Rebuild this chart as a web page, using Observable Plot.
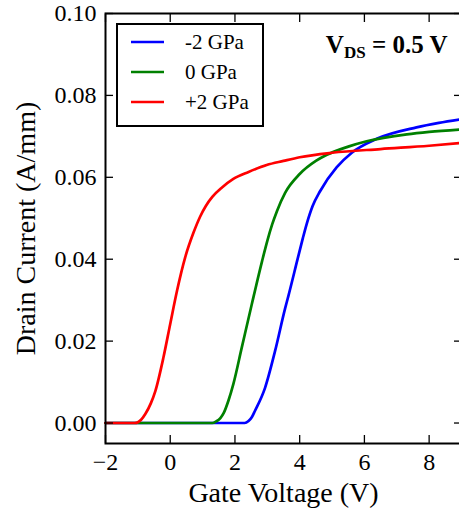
<!DOCTYPE html>
<html>
<head>
<meta charset="utf-8">
<script src="https://cdn.jsdelivr.net/npm/d3@7"></script>
<script src="https://cdn.jsdelivr.net/npm/@observablehq/plot@0.6"></script>
<style>
  html, body { margin: 0; padding: 0; background: white; overflow: hidden; }
  #chart { position: relative; width: 459px; height: 514px; }
</style>
</head>
<body>
<div id="chart"></div>
<script>
// ---- data ----
const seriesNames = ["-2 GPa", "0 GPa", "+2 GPa"];
const seriesColors = ["#0000ff", "#008000", "#ff0000"];

const vBlue = [-2, 2.3, 2.42, 2.52, 2.62, 2.93, 3.24, 3.55, 3.65, 3.95, 4.1, 4.22, 4.4, 4.63, 5.14, 5.61, 6.38, 7.61, 8.3, 9.0];
const iBlue = [0, 0, 0.0005, 0.0014, 0.003, 0.0086, 0.0176, 0.028, 0.031, 0.0405, 0.0452, 0.0487, 0.053, 0.0566, 0.0624, 0.066, 0.0694, 0.0722, 0.0733, 0.0742];

const vGreen = [-2, 1.3, 1.42, 1.55, 1.65, 1.8, 1.95, 2.21, 2.52, 2.84, 3.0, 3.15, 3.3, 3.55, 4.0, 4.5, 4.84, 5.5, 6.07, 7.31, 8.0, 9.0];
const iGreen = [0, 0, 0.0004, 0.0012, 0.0024, 0.0055, 0.0095, 0.0184, 0.029, 0.0396, 0.0445, 0.0485, 0.0518, 0.0562, 0.0608, 0.064, 0.0655, 0.0675, 0.0688, 0.0705, 0.0711, 0.0717];

const vRed = [-2, -1.1, -1.0, -0.9, -0.77, -0.6, -0.46, -0.21, 0, 0.21, 0.46, 0.72, 0.93, 1.1, 1.3, 1.6, 1.95, 2.42, 2.98, 3.5, 4.0, 5.0, 6.5, 8.0, 9.0];
const iRed = [0, 0, 0.0002, 0.0008, 0.0022, 0.0048, 0.0078, 0.016, 0.0242, 0.0323, 0.0404, 0.0465, 0.0505, 0.053, 0.0552, 0.0575, 0.0596, 0.0613, 0.063, 0.064, 0.0649, 0.066, 0.0669, 0.0677, 0.0684];

const xTicks = [-2, 0, 2, 4, 6, 8];
const yTicks = [0, 0.02, 0.04, 0.06, 0.08, 0.10];
const xLabel = "Gate Voltage (V)";
const yLabel = "Drain Current (A/mm)";
const annotation = "VDS = 0.5 V";

// ---- build table ----
const seriesV = [vBlue, vGreen, vRed];
const seriesI = [iBlue, iGreen, iRed];
const rows = [];
seriesNames.forEach((name, k) => {
  seriesV[k].forEach((v, j) => rows.push({s: name, v, i: seriesI[k][j]}));
});

const font = "'Liberation Serif', 'Times New Roman', serif";
const noText = () => "";

const chart = Plot.plot({
  width: 459,
  height: 514,
  marginLeft: 105,
  marginRight: -2,
  marginTop: 13,
  marginBottom: 71,
  x: {domain: [-2, 9], axis: null},
  y: {domain: [-0.005, 0.10], axis: null},
  color: {domain: seriesNames, range: seriesColors},
  style: {fontFamily: font, background: "white", color: "black", overflow: "hidden"},
  marks: [
    Plot.line(rows, {x: "v", y: "i", z: "s", stroke: "s", strokeWidth: 2.7, curve: "monotone-x"}),
    Plot.axisX({ticks: xTicks, tickSize: 0, tickPadding: 9, tickFormat: d3.format("d"), fontSize: 24, label: null}),
    Plot.axisX({ticks: xTicks, tickSize: -8, tickFormat: noText, label: null, strokeWidth: 1.3}),
    Plot.axisX({anchor: "top", ticks: xTicks, tickSize: -8, tickFormat: noText, label: null, strokeWidth: 1.3}),
    Plot.axisY({ticks: yTicks, tickSize: 0, tickPadding: 9, tickFormat: d3.format(".2f"), fontSize: 24, label: null}),
    Plot.axisY({ticks: yTicks, tickSize: -8, tickFormat: noText, label: null, strokeWidth: 1.3}),
    Plot.axisY({anchor: "right", ticks: yTicks, tickSize: -8, tickFormat: noText, label: null, strokeWidth: 1.3}),
    Plot.frame({stroke: "black", strokeWidth: 2}),
    Plot.text([xLabel], {frameAnchor: "bottom", dy: 50, lineAnchor: "middle", textAnchor: "middle", fontSize: 28, fill: "black"}),
    Plot.text([yLabel], {frameAnchor: "left", dx: -79, rotate: -90, lineAnchor: "middle", textAnchor: "middle", fontSize: 28, fill: "black"}),
    Plot.text([annotation], {frameAnchor: "top-right", dx: -14, dy: 31, lineAnchor: "middle", textAnchor: "end", fontSize: 25, fontWeight: "bold", fill: "black"})
  ]
});

document.getElementById("chart").appendChild(chart);

// drop the empty labels of the tick-only axes
d3.select(chart).selectAll("text").filter(function() { return this.textContent === ""; }).remove();

// subscript for V_DS
d3.select(chart).selectAll("text").each(function() {
  if (this.textContent === annotation) {
    const t = d3.select(this);
    t.text("");
    t.append("tspan").text("V");
    t.append("tspan").attr("dy", 5).attr("font-size", 17).text("DS");
    t.append("tspan").attr("dy", -5).text(" = 0.5 V");
  }
});

// legend inside the axes (upper left)
const svg = d3.select(chart);
const lg = svg.append("g").attr("transform", "translate(117,24)");
lg.append("rect").attr("width", 146).attr("height", 102)
  .attr("fill", "white").attr("stroke", "black").attr("stroke-width", 2);
seriesNames.forEach((name, k) => {
  const y = 18 + 30 * k;
  lg.append("line").attr("x1", 14).attr("x2", 47).attr("y1", y).attr("y2", y)
    .attr("stroke", seriesColors[k]).attr("stroke-width", 2.7);
  lg.append("text").attr("x", 68).attr("y", y).attr("dy", "0.35em")
    .attr("text-anchor", "start")
    .attr("font-family", font).attr("font-size", 21).attr("fill", "black").text(name);
});
</script>
</body>
</html>
